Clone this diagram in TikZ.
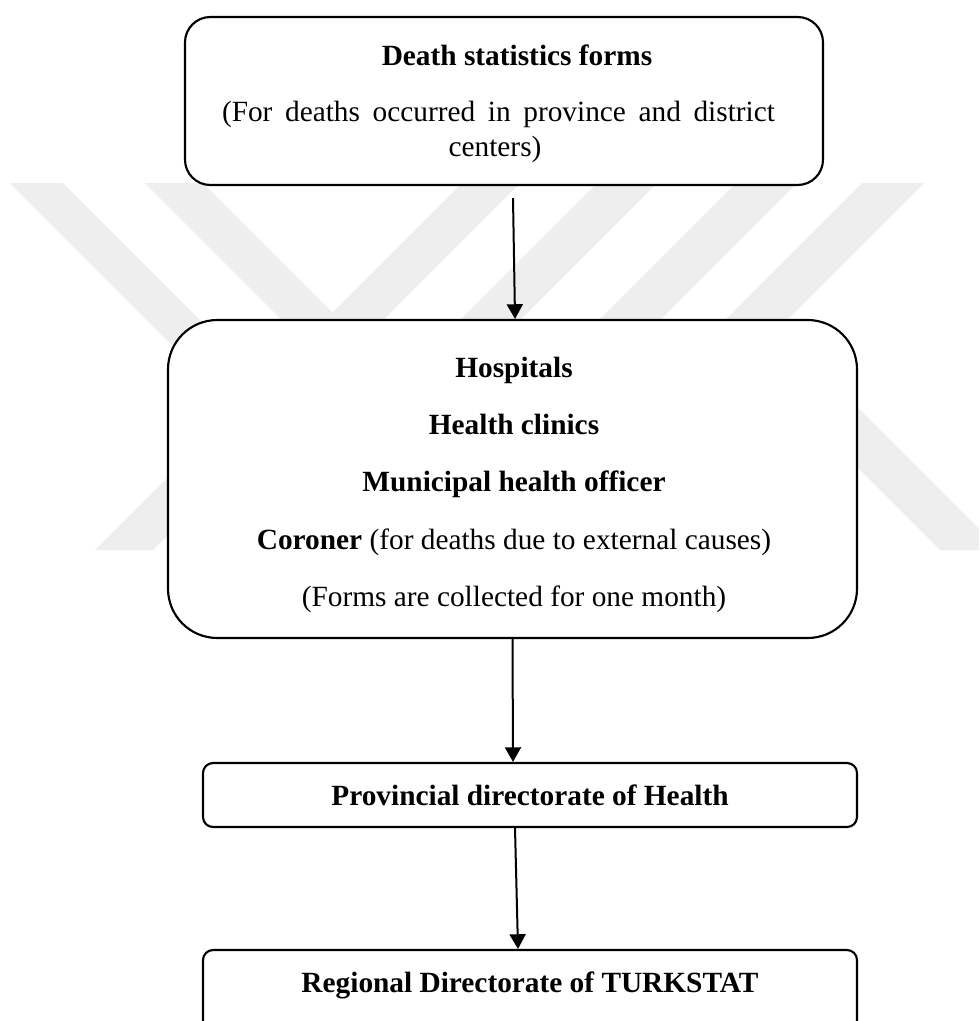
\documentclass[tikz,border=0pt]{standalone}
\usepackage{fontspec}
\setmainfont{Liberation Serif}
\usetikzlibrary{arrows.meta}
\definecolor{wm}{RGB}{238,238,238}
\begin{document}
\begin{tikzpicture}[x=0.75pt,y=-0.75pt,
  box/.style={draw=black, line width=1.6pt, fill=white, inner sep=0pt},
  txt/.style={inner sep=0pt, anchor=base, font=\fontsize{22}{26}\selectfont},
  arr/.style={draw=black, line width=1.5pt, -{Triangle[width=12pt,length=11pt]}},
  wmark/.style={fill=wm, draw=none}]
\useasboundingbox (0,0) rectangle (979,1021);
\fill[white] (0,0) rectangle (979,1021);
\clip (0,0) rectangle (979,1021);
% faint watermark stripes
\fill[wmark] (10,183) -- (63,183) -- (300,420) -- (247,420) -- cycle;
\fill[wmark] (145,183) -- (203,183) -- (420,400) -- (362,400) -- cycle;
\fill[wmark] (462,183) -- (520,183) -- (153,550) -- (95,550) -- cycle;
\fill[wmark] (597,183) -- (657,183) -- (420,420) -- (360,420) -- cycle;
\fill[wmark] (736,183) -- (797,183) -- (560,420) -- (499,420) -- cycle;
\fill[wmark] (862,183) -- (924,183) -- (687,420) -- (625,420) -- cycle;
\fill[wmark] (720,330) -- (780,330) -- (1000,550) -- (940,550) -- cycle;
% boxes
\node[box, rounded corners=19pt, minimum width=478.5pt, minimum height=126pt] (b1) at (504,101) {};
\node[box, rounded corners=37pt, minimum width=516.75pt, minimum height=238.5pt] (b2) at (512.5,479) {};
\node[box, rounded corners=7.5pt, minimum width=490.5pt, minimum height=48pt] (b3) at (530,795) {};
\node[box, rounded corners=7.5pt, minimum width=490.5pt, minimum height=67.5pt] (b4) at (530,995) {};
% texts
\node[txt] (t1) at (517,65) {\textbf{Death statistics forms}};
\node[txt] (t2) at (498.5,121) {\makebox[414.75pt][s]{(For deaths occurred in province and district}};
\node[txt] (t3) at (495,156) {centers)};
\node[txt] (h1) at (514,377) {\textbf{Hospitals}};
\node[txt] (h2) at (514,434) {\textbf{Health clinics}};
\node[txt] (h3) at (514,491) {\textbf{Municipal health officer}};
\node[txt] (h4) at (514,549) {\textbf{Coroner} (for deaths due to external causes)};
\node[txt] (h5) at (514,606) {(Forms are collected for one month)};
\node[txt] (p1) at (530,805) {\textbf{Provincial directorate of Health}};
\node[txt] (r1) at (530,992) {\textbf{Regional Directorate of TURKSTAT}};
% connectors
\draw[arr] ([xshift=6.75pt,yshift=-9pt]b1.south) -- ([xshift=1.9pt]b2.north);
\draw[arr] (b2.south) -- ([xshift=-12.75pt]b3.north);
\draw[arr] ([xshift=-11.25pt]b3.south) -- ([xshift=-9pt]b4.north);
\end{tikzpicture}
\end{document}
